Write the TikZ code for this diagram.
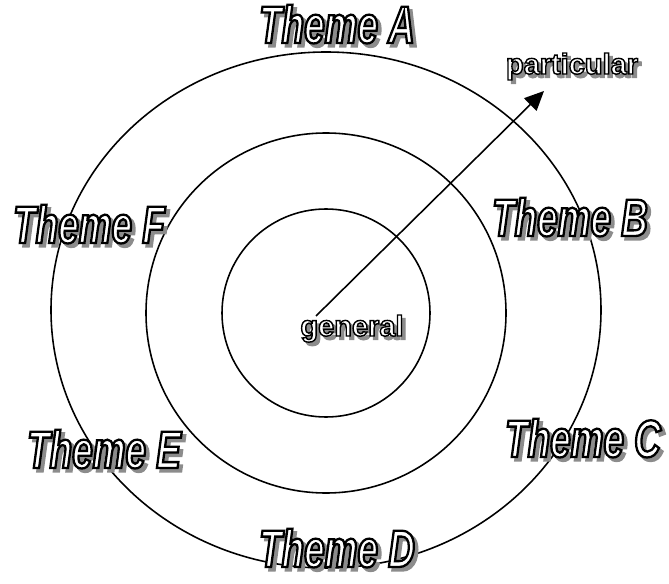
\documentclass[tikz,border=0pt]{standalone}
\usepackage{fontspec}
\usepackage{xcolor}
\usetikzlibrary{arrows.meta}
\newfontfamily\themefont[FakeStretch=0.7]{Liberation Sans}
\newfontfamily\wordfont{Liberation Sans}
\def\artw{1}
\newcommand{\artword}[1]{\rlap{\hspace{2pt}\raisebox{-2pt}{\special{pdf:code q 2 Tr 0.55 g 0.55 G \artw\space w}#1\special{pdf:code Q}}}\special{pdf:code q 2 Tr 1 g 0 G \artw\space w}#1\special{pdf:code Q}}

\begin{document}
\begin{tikzpicture}[x=0.02cm,y=-0.02cm,line width=0.9pt,
    theme/.style={font={\def\artw{1.3}\themefont\bfseries\itshape\fontsize{30}{30}\selectfont},anchor=base,inner sep=0pt},
    tag/.style={font={\def\artw{0.8}\wordfont\bfseries\fontsize{16.5}{16.5}\selectfont},anchor=base,inner sep=0pt}]
  \useasboundingbox (0,0) rectangle (669,584);
  \draw (326,313) circle (104)
        (326,313) circle (180)
        (326,310) ellipse (275 and 258);
  \coordinate (origin) at (316,316);
  \coordinate (tip) at (544,91);
  \draw[-{Triangle[length=11pt,width=10pt]}] (origin) -- (tip);
  \node[tag] (general) at (352,336) {\artword{general}};
  \node[tag] (particular) at (572,74) {\artword{particular}};
  \node[theme] (themeA) at (337,43) {\artword{Theme A}};
  \node[theme] (themeB) at (570,236) {\artword{Theme B}};
  \node[theme] (themeC) at (583,457) {\artword{Theme C}};
  \node[theme] (themeD) at (337,567) {\artword{Theme D}};
  \node[theme] (themeE) at (104,468) {\artword{Theme E}};
  \node[theme] (themeF) at (89,243) {\artword{Theme F}};
\end{tikzpicture}
\end{document}
